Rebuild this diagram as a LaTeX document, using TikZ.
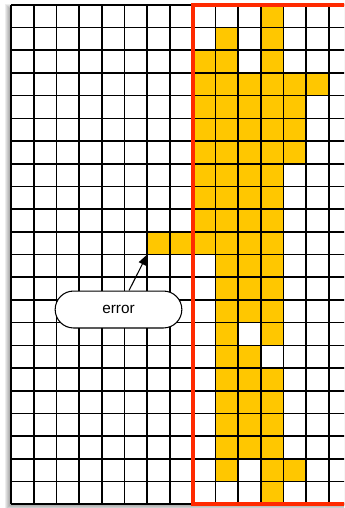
\documentclass[tikz,border=0pt]{standalone}
\usepackage{fontspec}
\setmainfont{Liberation Sans}
\usetikzlibrary{arrows.meta,calc}
\definecolor{cellyellow}{HTML}{FFC700}
\definecolor{framered}{HTML}{FF2A00}
\begin{document}
\begin{tikzpicture}[x=0.75pt,y=-0.75pt,
  gridline/.style={black,line width=1.2pt},
  cellfill/.style={fill=cellyellow},
  redframe/.style={draw=framered,line width=2.9pt},
  pill/.style={draw=black,fill=white,line width=0.8pt,rounded corners=13.8pt,
    minimum width=95pt,minimum height=27.7pt,inner sep=0pt,font=\fontsize{11.5pt}{13pt}\selectfont},
  pointer/.style={-{Triangle[length=8pt,width=6pt]},line width=0.8pt,black}]
\useasboundingbox (0,0) rectangle (344,508);
\clip (0,0) rectangle (344,508);
\def\s{22.7}
\def\xo{11}
\def\yo{4.8}
% drop shadow
\foreach \k in {0,1,2,3,4}
  \fill[black,opacity=0.07] (\xo-2-\k,\yo+3-\k) rectangle (\xo+15*\s,\yo+22*\s+2+\k);
% background
\fill[white] (\xo,\yo) rectangle (\xo+15*\s,\yo+22*\s);
% yellow cells
\foreach \r/\cs in {0/{11},1/{9,11},2/{8,9,11},3/{8,...,13},4/{8,...,12},5/{8,...,12},
  6/{8,...,12},7/{8,...,11},8/{8,...,11},9/{8,...,11},10/{6,...,11},11/{9,10,11},
  12/{9,10,11},13/{9,10,11},14/{9,11},15/{9,10},16/{9,10,11},17/{9,10,11},
  18/{9,10,11},19/{9,10,11},20/{9,11,12},21/{11}}
  \foreach \c in \cs
    \fill[cellfill] (\xo+\c*\s,\yo+\r*\s) rectangle ++(\s,\s);
% grid
\foreach \i in {0,...,15}
  \draw[gridline] (\xo+\i*\s,\yo) -- (\xo+\i*\s,\yo+22*\s);
\foreach \j in {0,...,22}
  \draw[gridline] (\xo,\yo+\j*\s) -- (\xo+15*\s,\yo+\j*\s);
% red frame
\draw[redframe] (\xo+8*\s,\yo) rectangle (\xo+15*\s,\yo+22*\s);
% label
\node[pill] (err) at (118.5,309.5) {error};
\coordinate (tip) at (\xo+6*\s,\yo+11*\s);
\draw[pointer] ($(err.north)+(10.5,0)$) -- (tip);
\end{tikzpicture}
\end{document}
